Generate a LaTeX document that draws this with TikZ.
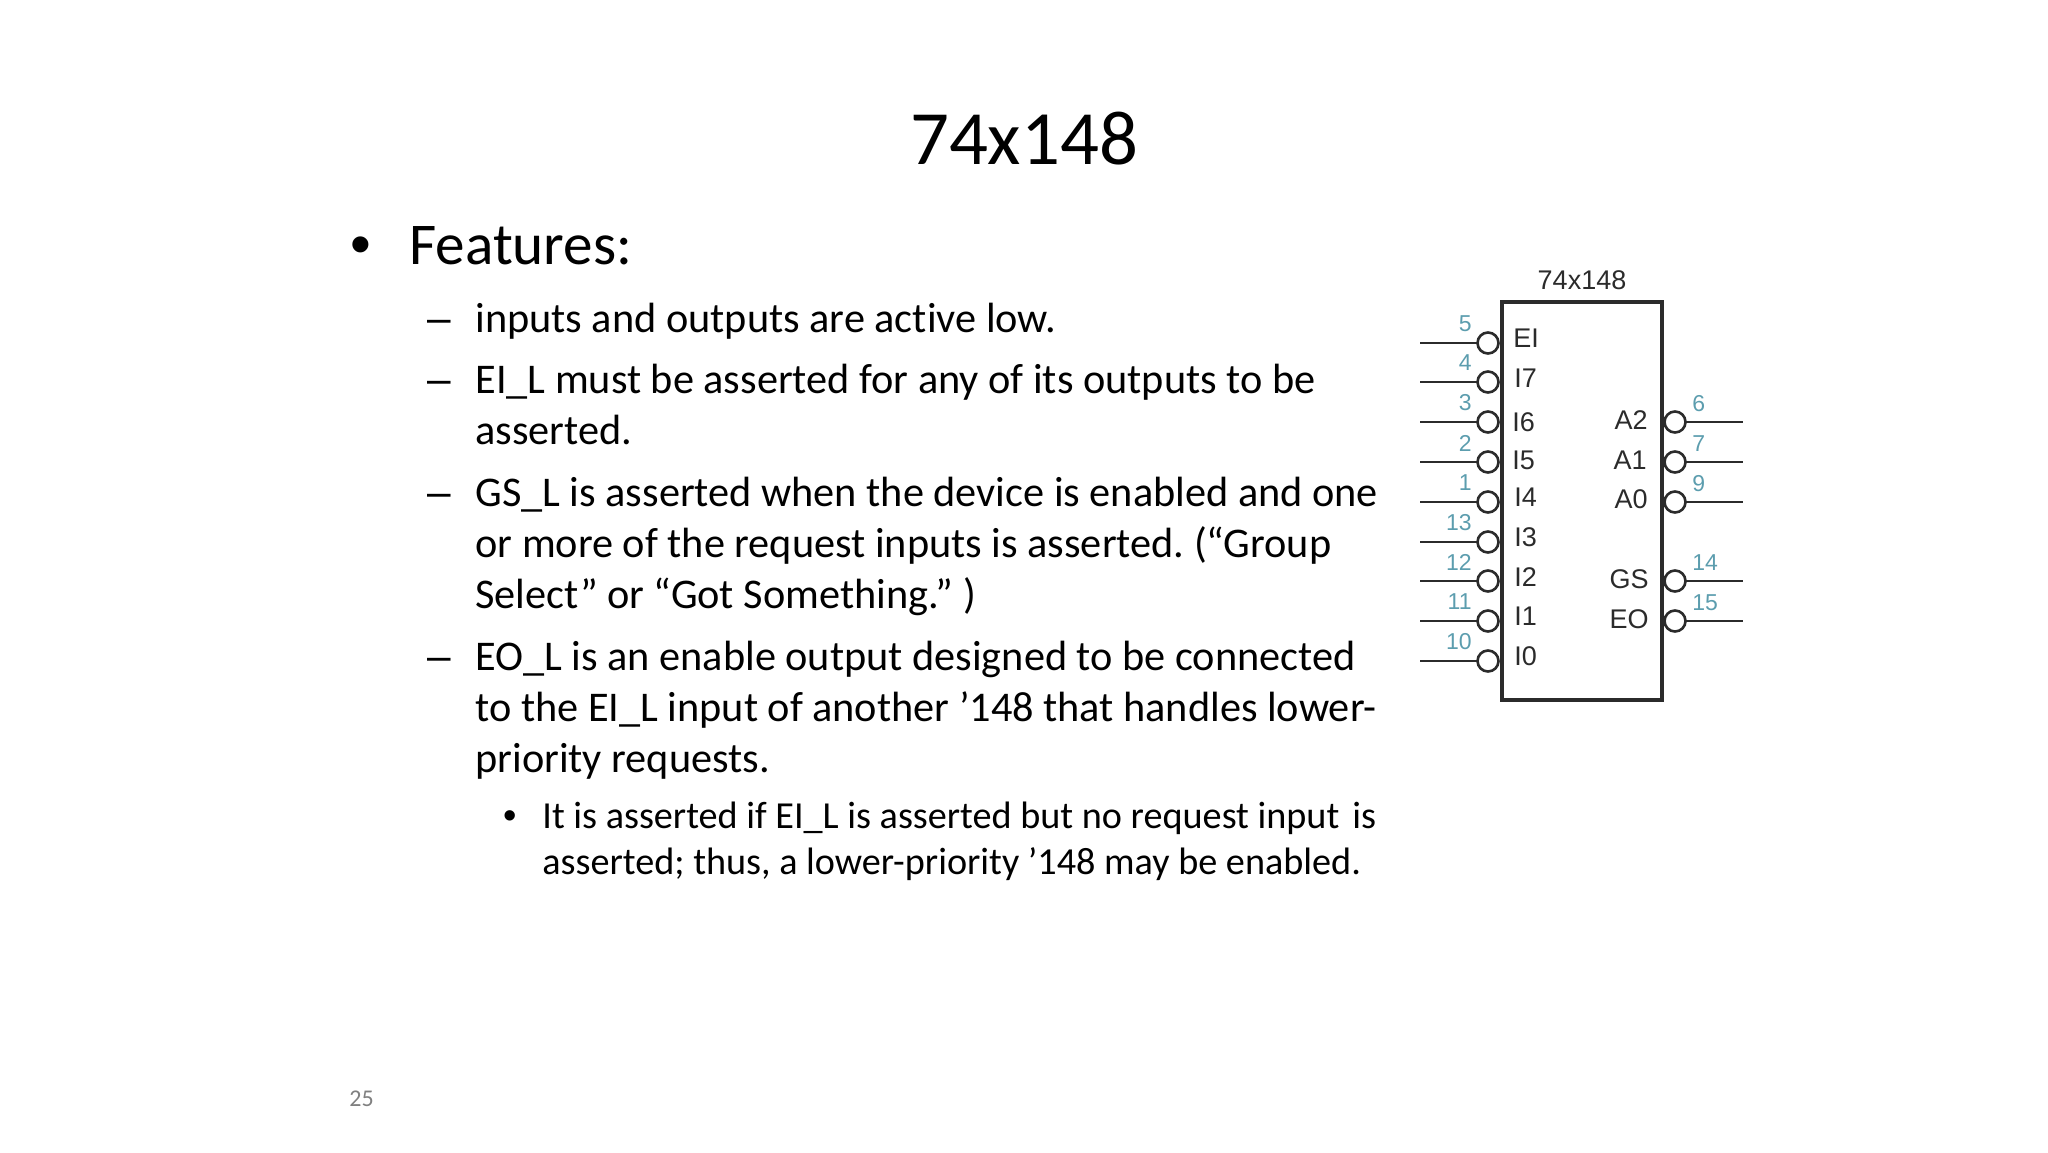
\documentclass[tikz,border=0pt]{standalone}
\usepackage{fontspec}
\setmainfont{Carlito}[Ligatures=NoCommon]
\newfontfamily\chipfont{Liberation Sans}
\definecolor{pincolor}{HTML}{5C9DAE}
\definecolor{wirecolor}{HTML}{2B2B2B}
\frenchspacing
\tikzset{
	titletext/.style={inner sep=0,anchor=base,font=\fontsize{38.4}{38.4}\selectfont},
	firsttext/.style={inner sep=0,anchor=base west,font=\fontsize{29.6}{29.6}\selectfont},
	secondtext/.style={inner sep=0,anchor=base west,font=\fontsize{21.15}{21.15}\selectfont},
	thirdtext/.style={inner sep=0,anchor=base west,font=\fontsize{19.1}{19.1}\selectfont},
	firstmark/.style={inner sep=0,anchor=base west,font=\chipfont\fontsize{29.6}{29.6}\selectfont},
	secondmark/.style={inner sep=0,anchor=base west,font=\chipfont\fontsize{21.15}{21.15}\selectfont},
	thirdmark/.style={inner sep=0,anchor=base west,font=\chipfont\fontsize{19.1}{19.1}\selectfont},
	pagetext/.style={inner sep=0,anchor=base west,text=gray,font=\fontsize{12}{12}\selectfont},
	chiptext/.style={inner sep=0,text=wirecolor,font=\chipfont\fontsize{13.5}{13.5}\selectfont},
	pinnum/.style={inner sep=0,text=pincolor,font=\chipfont\fontsize{11.5}{11.5}\selectfont},
	bubble/.style={circle,draw=wirecolor,line width=1.3pt,fill=white,minimum size=10.5pt,inner sep=0,outer sep=0},
	wire/.style={draw=wirecolor,line width=1pt},
}
\begin{document}
\begin{tikzpicture}[x=0.5pt,y=-0.5pt]
	\useasboundingbox (0,0) rectangle (2048,1152);
	% Slide text
	\node[titletext] (title) at (1024,164) {74x148};
	\node[firstmark] (bulletA) at (350,264) {•};
	\node[firsttext] (features) at (409,264) {Features:};
	\node[secondmark] (dashA) at (427,332) {–};
	\node[secondtext] (lineA) at (475,332) {inputs and outputs are active low.};
	\node[secondmark] (dashB) at (427,393) {–};
	\node[secondtext] (lineB) at (475,393) {EI\_L must be asserted for any of its outputs to be};
	\node[secondtext] (lineC) at (475,444) {asserted.};
	\node[secondmark] (dashC) at (427,506) {–};
	\node[secondtext] (lineD) at (475,506) {GS\_L is asserted when the device is enabled and one};
	\node[secondtext] (lineE) at (475,557) {or more of the request inputs is asserted. (“Group};
	\node[secondtext] (lineF) at (475,608) {Select” or “Got Something.” )};
	\node[secondmark] (dashD) at (427,670) {–};
	\node[secondtext] (lineG) at (475,670) {EO\_L is an enable output designed to be connected};
	\node[secondtext] (lineH) at (475,721) {to the EI\_L input of another ’148 that handles lower-};
	\node[secondtext] (lineI) at (475,772) {priority requests.};
	\node[thirdmark] (bulletB) at (503,828) {•};
	\node[thirdtext] (lineJ) at (542,828) {It is asserted if EI\_L is asserted but no request input\hspace{6.5pt}is};
	\node[thirdtext] (lineK) at (542,874) {asserted; thus, a lower-priority ’148 may be enabled.};
	\node[pagetext] (pagenum) at (349,1106) {25};
	% Chip body
	\draw[draw=wirecolor,line width=1.7pt] (1502,302) rectangle (1662,700);
	\node[chiptext] (chipname) at (1582,280) {74x148};
	% Inputs: wire y / name / number / label x / label y
	\foreach \y/\pin/\num/\lx/\ly in {343/EI/5/1513/338, 382/I7/4/1514/378, 422/I6/3/1512/422, 462/I5/2/1512/460, 502/I4/1/1514/497, 542/I3/13/1514/537, 581/I2/12/1514/577, 621/I1/11/1514/616, 661/I0/10/1514/656} {
		\node[bubble] (bub\pin) at (1488,\y) {};
		\coordinate (end\pin) at (1420,\y);
		\draw[wire] (end\pin) -- (bub\pin);
		\node[chiptext,anchor=west] (txt\pin) at (\lx,\ly) {\pin};
		\node[pinnum,anchor=east] (num\pin) at (1472,\y-19) {\num};
	}
	% Outputs
	\foreach \y/\pin/\num/\lx/\ly in {422/A2/6/1648/420, 462/A1/7/1647/460, 502/A0/9/1648/499, 581/GS/14/1649/579, 621/EO/15/1649/619} {
		\node[bubble] (bub\pin) at (1675,\y) {};
		\coordinate (end\pin) at (1743,\y);
		\draw[wire] (bub\pin) -- (end\pin);
		\node[chiptext,anchor=east] (txt\pin) at (\lx,\ly) {\pin};
		\node[pinnum,anchor=west] (num\pin) at (1692,\y-18) {\num};
	}
\end{tikzpicture}
\end{document}
